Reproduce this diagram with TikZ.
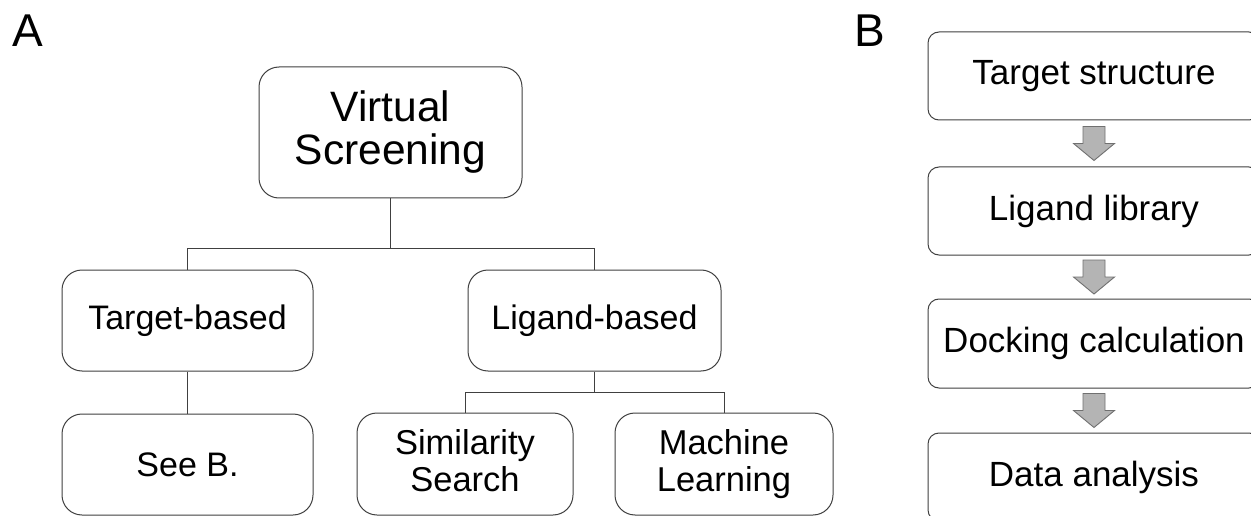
\documentclass[tikz,border=0pt]{standalone}
\usepackage{fontspec}
\setmainfont{Liberation Sans}
\definecolor{edge}{HTML}{404040}
\definecolor{arrfill}{HTML}{B4B4B4}
\definecolor{arredge}{HTML}{707070}
\tikzset{
  box/.style={draw=edge, line width=1pt, rounded corners=20pt, align=center, inner sep=0pt, text=black},
  bbox/.style={draw=edge, line width=1pt, rounded corners=11pt, align=center, inner sep=0pt, minimum width=332pt, minimum height=88pt, text=black, font=\fontsize{35}{40}\selectfont},
  conn/.style={draw=edge, line width=1pt},
  blockarrow/.style={fill=arrfill, draw=arredge, line width=0.9pt, line join=miter},
  panel/.style={font=\fontsize{46}{50}\selectfont, inner sep=0pt, text=black},
  midtext/.style={font=\fontsize{34}{37}\selectfont},
  twotext/.style={font=\fontsize{34.5}{37.5}\selectfont}
}
\begin{document}
\begin{tikzpicture}[x=1pt,y=-1pt]
\useasboundingbox (0,0) rectangle (1251,516);
\clip (0,0) rectangle (1251,516);
\fill[white] (0,0) rectangle (1251,516);
% panel labels
\node[panel] (labA) at (28,31) {A};
\node[panel] (labB) at (870,31) {B};
% panel A
\node[box, minimum width=263pt, minimum height=131pt, font=\fontsize{42.5}{43}\selectfont] (vs) at (390.5,132.5) {Virtual\\Screening};
\node[box, midtext, minimum width=251pt, minimum height=101pt] (tb) at (187.5,320.5) {Target-based};
\node[box, midtext, minimum width=253pt, minimum height=101pt] (lb) at (594.5,320.5) {Ligand-based};
\node[box, midtext, minimum width=251pt, minimum height=101pt] (seeb) at (187.5,464.5) {See B.};
\node[box, twotext, minimum width=216pt, minimum height=102pt] (ss) at (465,464) {Similarity\\Search\vphantom{g}};
\node[box, twotext, minimum width=218pt, minimum height=102pt] (ml) at (724,464) {Machine\\Learning};
\draw[conn] (vs.south) -- ++(0,50) coordinate (j1) -| (tb.north);
\draw[conn] (j1) -| (lb.north);
\draw[conn] (tb.south) -- (seeb.north);
\draw[conn] (lb.south) -- ++(0,21) coordinate (j2) -| (ss.north);
\draw[conn] (j2) -| (ml.north);
% panel B
\node[bbox] (t1) at (1094,76) {Target structure};
\node[bbox] (t2) at (1094,211) {Ligand library};
\node[bbox, minimum height=89pt] (t3) at (1094,343.5) {Docking calculation};
\node[bbox] (t4) at (1094,477) {Data analysis};
\path (t1.south) -- (t2.north) coordinate[midway] (m1);
\path (t2.south) -- (t3.north) coordinate[midway] (m2);
\path (t3.south) -- (t4.north) coordinate[midway] (m3);
\foreach \m in {m1,m2,m3}{
  \draw[blockarrow] ([shift={(-11,-17)}]\m) -- ([shift={(11,-17)}]\m) -- ([shift={(11,0)}]\m) -- ([shift={(20.5,0)}]\m) -- ([shift={(0,17)}]\m) -- ([shift={(-20.5,0)}]\m) -- ([shift={(-11,0)}]\m) -- cycle;
}
\end{tikzpicture}
\end{document}
